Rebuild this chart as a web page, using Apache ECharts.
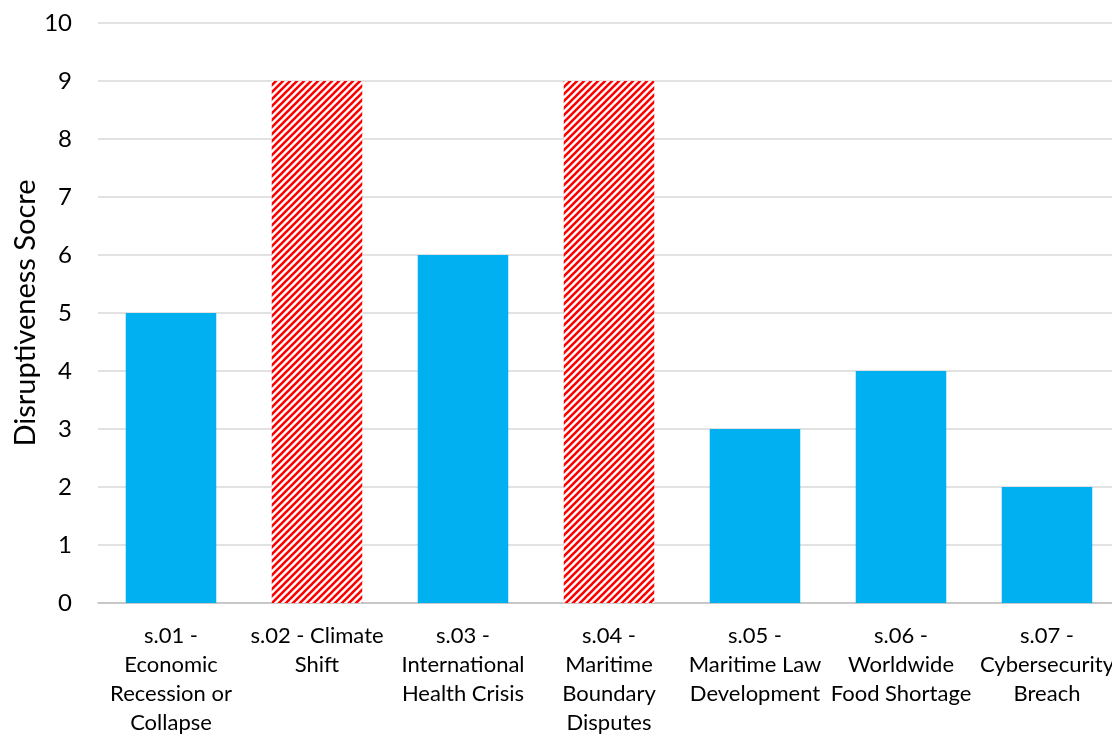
<!DOCTYPE html>
<html>
<head>
<meta charset="utf-8">
<script src="https://cdn.jsdelivr.net/npm/echarts@6/dist/echarts.min.js"></script>
<style>
  html, body { margin: 0; padding: 0; background: #ffffff; }
  #chart { width: 1112px; height: 734px; }
</style>
</head>
<body>
<div id="chart"></div>
<script>
// Scenario categories (line breaks follow the wrapped axis labels)
const categories = [
  's.01 -\nEconomic\nRecession or\nCollapse',
  's.02 - Climate\nShift',
  's.03 -\nInternational\nHealth Crisis',
  's.04 -\nMaritime\nBoundary\nDisputes',
  's.05 -\nMaritime Law\nDevelopment',
  's.06 -\nWorldwide\nFood Shortage',
  's.07 -\nCybersecurity\nBreach'
];
// Disruptiveness score per scenario
const scores = [5, 9, 6, 9, 3, 4, 2];
// Scenarios drawn with the hatched highlight
const highlighted = [false, true, false, true, false, false, false];
// Y axis range
const yMin = 0, yMax = 10, yStep = 1;
const yTitle = 'Disruptiveness Socre';

// Red upward-diagonal hatch pattern
function makeHatch() {
  const s = 7;
  const c = document.createElement('canvas');
  c.width = s; c.height = s;
  const g = c.getContext('2d');
  g.fillStyle = '#ffffff';
  g.fillRect(0, 0, s, s);
  g.strokeStyle = '#ff0000';
  g.lineWidth = 2.6;
  g.beginPath();
  for (let k = -1; k <= 1; k++) {
    g.moveTo(k * s - 1, s + 1);
    g.lineTo(k * s + s + 1, -1);
  }
  g.stroke();
  return c;
}
const hatch = { image: makeHatch(), repeat: 'repeat' };

const chart = echarts.init(document.getElementById('chart'), null, { renderer: 'canvas' });
const font = 'Lato, "Liberation Sans", sans-serif';

chart.setOption({
  animation: false,
  backgroundColor: '#ffffff',
  grid: {
    left: 98, top: 23, width: 1022, height: 580,
    containLabel: false,
    outerBoundsMode: 'none'
  },
  xAxis: {
    type: 'category',
    data: categories,
    axisLine: { lineStyle: { color: '#bfbfbf', width: 1.5 } },
    axisTick: { show: false },
    axisLabel: {
      interval: 0,
      color: '#000000',
      fontFamily: font,
      fontSize: 22,
      lineHeight: 29,
      margin: 18,
      align: 'center'
    }
  },
  yAxis: {
    type: 'value',
    min: yMin, max: yMax, interval: yStep,
    name: yTitle,
    nameLocation: 'middle',
    nameGap: 58,
    nameMoveOverlap: false,
    nameTextStyle: { color: '#000000', fontFamily: font, fontSize: 29 },
    axisLine: { show: false },
    axisTick: { show: false },
    axisLabel: { color: '#000000', fontFamily: font, fontSize: 24, margin: 26 },
    splitLine: { lineStyle: { color: '#d9d9d9', width: 1.5 } }
  },
  series: [{
    type: 'bar',
    barWidth: '62%',
    data: scores.map((v, i) => ({
      value: v,
      itemStyle: { color: highlighted[i] ? hatch : '#00b0f0' }
    }))
  }]
});
</script>
</body>
</html>
